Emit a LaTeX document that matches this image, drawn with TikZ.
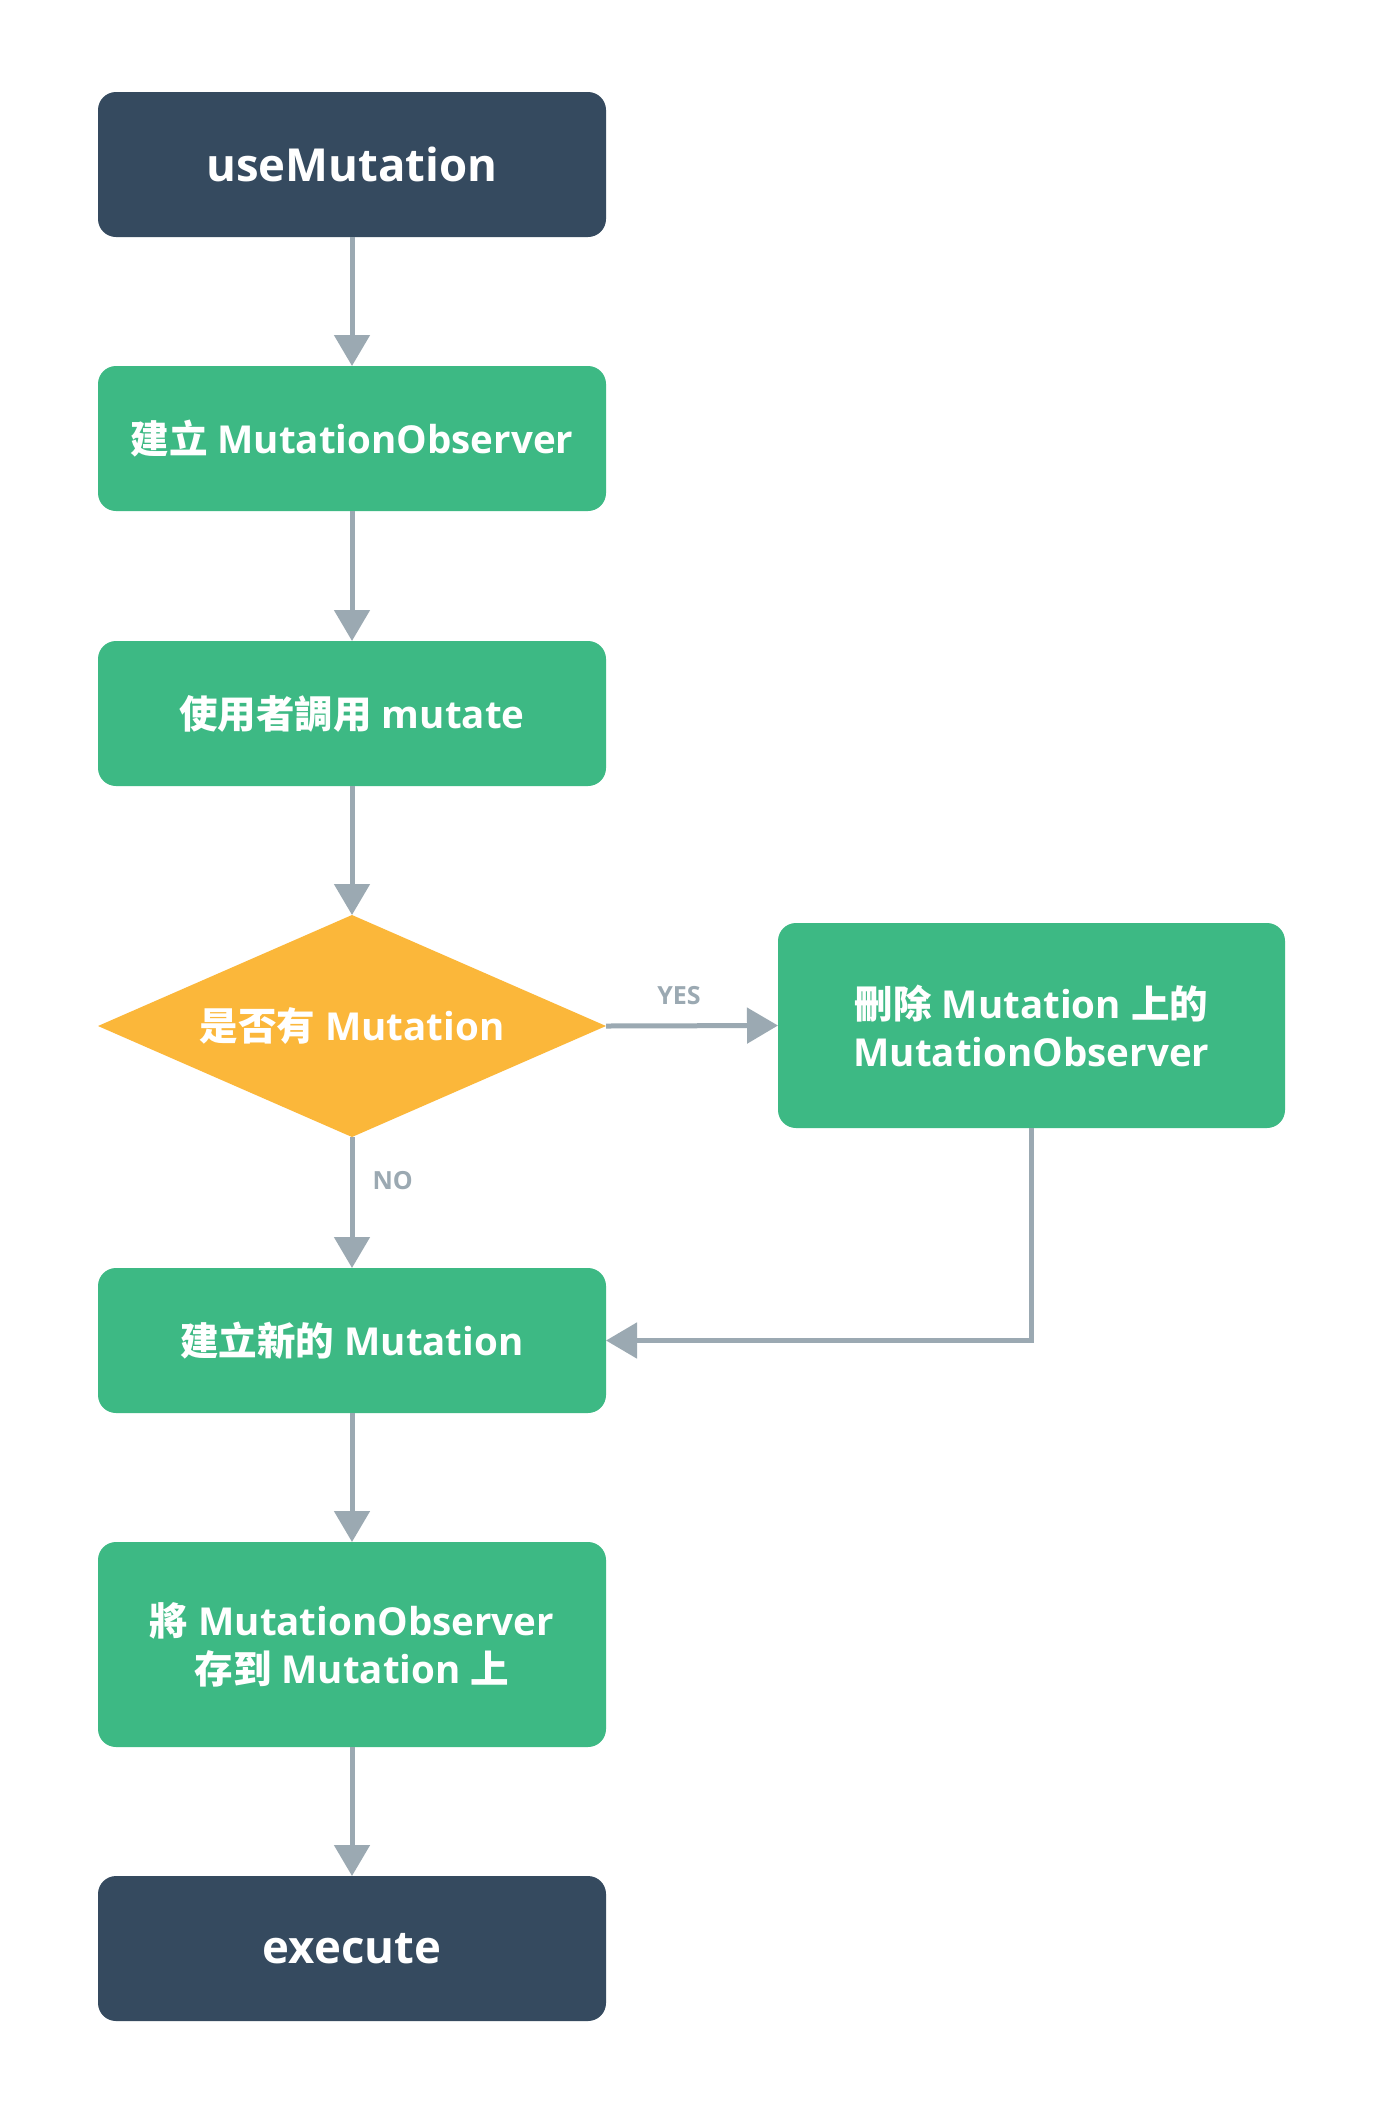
\documentclass[tikz,border=0pt]{standalone}
\usepackage{fontspec}
\setmainfont{Open Sans}
\newfontfamily\cjkfam{Noto Sans CJK TC}
\newcommand{\zhtxt}[1]{{\cjkfam\bfseries #1}}
\usetikzlibrary{arrows.meta,shapes.geometric}
\definecolor{navy}{HTML}{354A5F}
\definecolor{grn}{HTML}{3DB984}
\definecolor{orng}{HTML}{FBB73A}
\definecolor{arrgray}{HTML}{9BA9B2}
\tikzset{
  x=1pt,y=-1pt,
  basebox/.style={rectangle, rounded corners=18pt, minimum width=508pt, minimum height=145pt,
    inner sep=0pt, outer sep=0pt, text=white, align=center, font=\bfseries\fontsize{38.5}{48}\selectfont},
  darkbox/.style={basebox, fill=navy, font=\bfseries\fontsize{45.5}{52}\selectfont},
  greenbox/.style={basebox, fill=grn},
  decbox/.style={diamond, fill=orng, minimum width=508pt, minimum height=222pt, aspect=2.29,
    inner sep=0pt, outer sep=0pt, text=white, font=\bfseries\fontsize{38.5}{48}\selectfont},
  conn/.style={draw=arrgray, line width=5pt, -{Triangle[width=35pt,length=31pt]}},
  lbl/.style={text=arrgray, font=\bfseries\fontsize{25}{30}\selectfont, inner sep=0pt}
}
\begin{document}
\begin{tikzpicture}
\useasboundingbox[fill=white] (0,0) rectangle (1378,2102);
\node[darkbox] (um) at (352,164.5) {useMutation};
\node[greenbox] (mo) at (352,438.5) {\zhtxt{建立} MutationObserver};
\node[greenbox] (mu) at (352,713.5) {\zhtxt{使用者調用} mutate};
\node[decbox] (dia) at (352,1026) {\zhtxt{是否有} Mutation};
\node[greenbox, minimum width=507pt, minimum height=205pt] (rb) at (1031.5,1025.5) {\zhtxt{刪除} Mutation \zhtxt{上的}\\MutationObserver};
\node[greenbox] (nm) at (352,1340.5) {\zhtxt{建立新的} Mutation};
\node[greenbox, minimum height=205pt] (st) at (352,1644.5) {\zhtxt{將} MutationObserver\\\zhtxt{存到} Mutation \zhtxt{上}};
\node[darkbox] (ex) at (352,1948.5) {execute};
\draw[conn] (um) -- (mo);
\draw[conn] (mo) -- (mu);
\draw[conn] (mu) -- (dia);
\draw[conn] (dia.east) -- (rb.west) node[lbl, midway, above=19pt, xshift=-13pt] (yes) {YES};
\draw[conn] (dia.south) -- (nm.north) node[lbl, pos=0.33, right=18pt] (no) {NO};
\draw[conn] (rb.south) |- (nm.east);
\draw[conn] (nm) -- (st);
\draw[conn] (st) -- (ex);
\end{tikzpicture}
\end{document}
